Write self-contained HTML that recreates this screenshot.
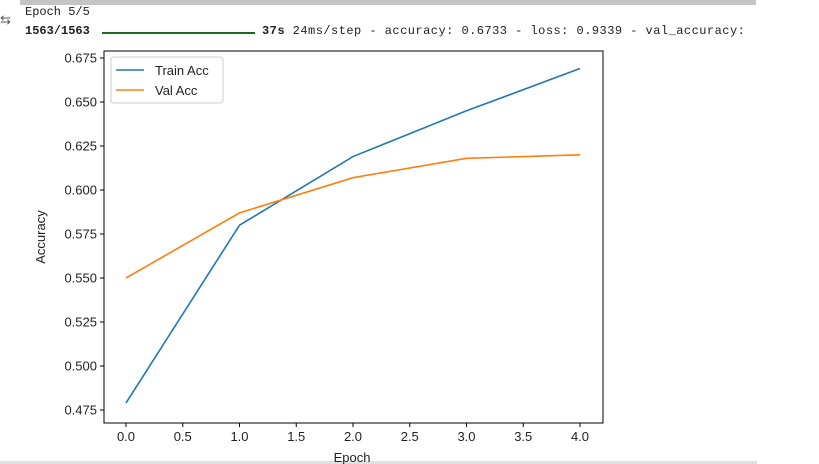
<!DOCTYPE html>
<html><head><meta charset="utf-8"><style>
body{margin:0;width:819px;height:464px;background:#fff;overflow:hidden;position:relative;font-family:"Liberation Sans",sans-serif}
.mono{font-family:"Liberation Mono",monospace;font-size:12px;color:#212121;position:absolute;white-space:pre}
</style></head><body>
<div style="position:absolute;left:20px;top:0;width:736px;height:5px;background:#c4c4c4"></div>
<div style="position:absolute;left:0;top:12px;font-size:13px;color:#555">⇆</div>
<div class="mono" style="left:25px;top:5px">Epoch 5/5</div>
<div class="mono" style="left:25px;top:24px;font-weight:bold">1563/1563</div>
<div style="position:absolute;left:102px;top:32px;width:153px;height:2px;background:#1b6b1b"></div>
<div class="mono" style="left:262px;top:24px;letter-spacing:0.47px"><b>37s</b> 24ms/step - accuracy: 0.6733 - loss: 0.9339 - val_accuracy:</div>
<div style="position:absolute;left:0;top:461px;width:757px;height:3px;background:#e0e0e0"></div>
<svg id="chart" width="819" height="464" style="position:absolute;left:0;top:0" font-family="Liberation Sans, sans-serif" font-size="13"></svg>
<script>
const epochs=[0,1,2,3,4];
const trainAcc=[0.479,0.580,0.619,0.645,0.669];
const valAcc=[0.550,0.587,0.607,0.618,0.620];
const xTicks=[0,0.5,1,1.5,2,2.5,3,3.5,4];
const yTicks=[0.475,0.5,0.525,0.55,0.575,0.6,0.625,0.65,0.675];
const svg=document.getElementById('chart');
const NS='http://www.w3.org/2000/svg';
const L=104,R=603,T=51,B=423;
function xs(v){return 126+v*113.5;}
function ys(v){return 58+(0.675-v)/0.025*44;}
function mk(tag,attrs,parent){const e=document.createElementNS(NS,tag);for(const k in attrs)e.setAttribute(k,attrs[k]);(parent||svg).appendChild(e);return e;}
xTicks.forEach(t=>{
 const g=mk('g',{});
 
 
 mk('line',{x1:xs(t),x2:xs(t),y1:B,y2:B+4,stroke:'#000'},g);
 const tx=mk('text',{x:xs(t),y:B+18,'text-anchor':'middle',fill:'#222'},g);tx.textContent=t.toFixed(1);
});
yTicks.forEach(t=>{
 const g=mk('g',{});
 
 
 mk('line',{x1:L-4,x2:L,y1:ys(t),y2:ys(t),stroke:'#000'},g);
 const tx=mk('text',{x:L-7,y:ys(t)+4.5,'text-anchor':'end',fill:'#222'},g);tx.textContent=t.toFixed(3);
});
function series(vals,color,name){
 const p=mk('polyline',{points:vals.map((v,i)=>xs(epochs[i])+','+ys(v)).join(' '),fill:'none',stroke:color,'stroke-width':1.6});
 
 
}
series(trainAcc,'#1f77b4','train-acc-line');
series(valAcc,'#ff7f0e','val-acc-line');
const frame=mk('rect',{x:L,y:T,width:R-L,height:B-T,fill:'none',stroke:'#000','stroke-width':1});


const yl=mk('text',{x:0,y:0,transform:'translate(45,237) rotate(-90)','text-anchor':'middle',fill:'#222'});yl.textContent='Accuracy';


const xl=mk('text',{x:352,y:462,'text-anchor':'middle',fill:'#222'});xl.textContent='Epoch';


const lg=mk('g',{});


mk('rect',{x:111,y:57,width:112,height:46,rx:3,fill:'#fff',stroke:'#ccc'},lg);
[['Train Acc','#1f77b4'],['Val Acc','#ff7f0e']].forEach((e,i)=>{
 const g=mk('g',{},lg);
 
 
 mk('line',{x1:116,x2:144,y1:70+i*20,y2:70+i*20,stroke:e[1],'stroke-width':1.6},g);
 const t=mk('text',{x:155,y:75+i*20,fill:'#222'},g);t.textContent=e[0];
});
</script>
</body></html>
